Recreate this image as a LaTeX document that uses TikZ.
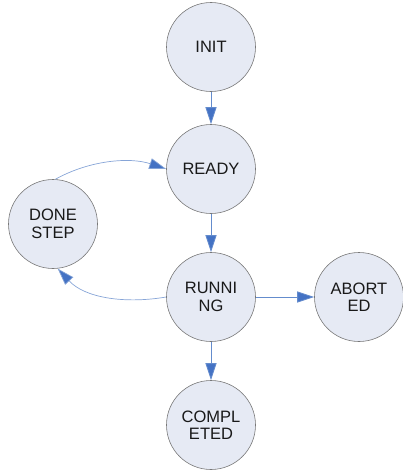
\documentclass[tikz,border=0pt]{standalone}
\usepackage{fontspec}
\setmainfont{Liberation Sans}
\usetikzlibrary{arrows.meta}
\definecolor{stfill}{RGB}{230,234,244}
\definecolor{stedge}{RGB}{120,120,120}
\definecolor{arrline}{RGB}{100,140,205}
\definecolor{curveline}{RGB}{135,165,215}
\definecolor{arrhead}{RGB}{68,114,196}
\tikzset{
  x=1pt, y=-1pt,
  state/.style={circle, draw=stedge, line width=0.6pt, fill=stfill, minimum size=89pt, inner sep=0pt,
    align=center, font=\fontsize{16.5}{17.5}\selectfont, text=black!90},
  flow/.style={draw=arrline, line width=0.8pt, -{Triangle[length=17pt,width=11pt,fill=arrhead]}, arrhead},
  loopflow/.style={draw=curveline, line width=0.7pt, -{Triangle[length=17pt,width=11pt,fill=arrhead]}},
}
\begin{document}
\begin{tikzpicture}
\useasboundingbox (0,0) rectangle (402,471);
\node[state] (init) at (211,47) {INIT};
\node[state] (ready) at (211,169) {READY};
\node[state] (running) at (211,297) {RUNNI\\NG};
\node[state] (completed) at (211,425) {COMPL\\ETED};
\node[state] (done) at (53,224) {DONE\\STEP};
\node[state] (aborted) at (359,297) {ABORT\\ED};
\draw[flow, draw=arrline] (init) -- (ready);
\draw[flow, draw=arrline] (ready) -- (running);
\draw[flow, draw=arrline] (running) -- (completed);
\draw[flow, draw=arrline] (running) -- (aborted);
\draw[loopflow, arrhead, draw=curveline] (done.87) .. controls (90,160) and (130,157) .. (ready.west);
\draw[loopflow, arrhead, draw=curveline] (running.west) .. controls (125,304) and (85,298) .. (done.-84);
\end{tikzpicture}
\end{document}
